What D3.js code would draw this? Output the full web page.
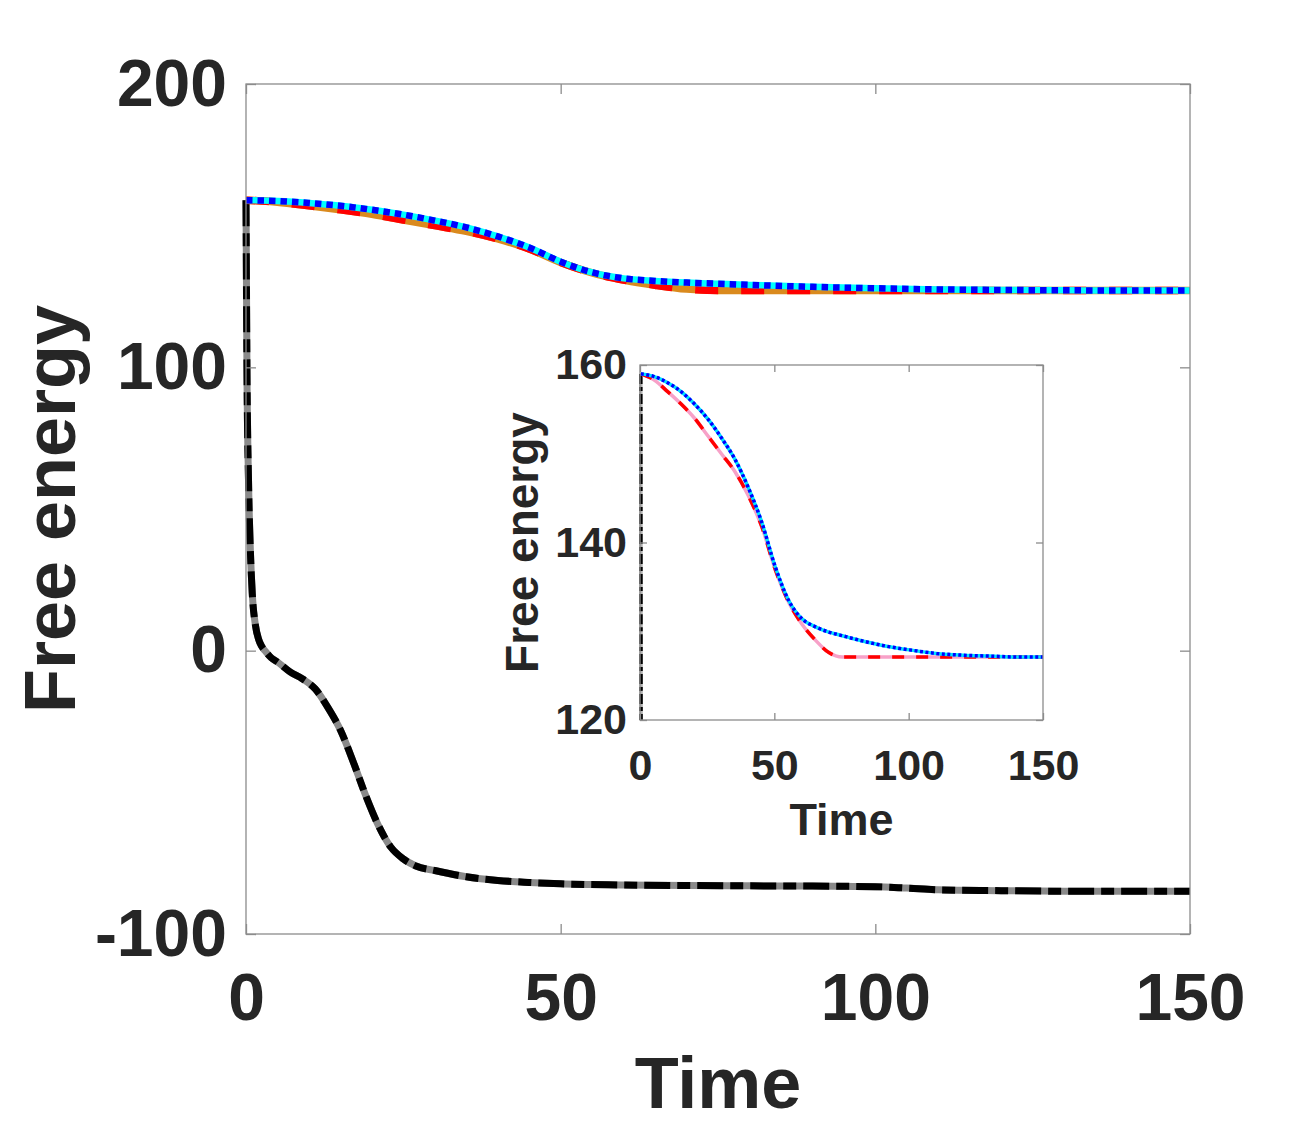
<!DOCTYPE html>
<html><head><meta charset="utf-8">
<script src="https://cdn.jsdelivr.net/npm/d3@7"></script>
<style>body{margin:0;background:#fff}svg{display:block}text{font-family:"Liberation Sans",Arial,sans-serif;font-weight:bold}</style>
</head><body><svg id="c" width="1316" height="1125"></svg>
<script>
// ---- data ----
const timeA = [0,5,10,15,20,25,30,35,40,45,50,55,60,65,70,75,80,90,100,110,120,130,140,150];
const redSeries = [159,158.3,157.0,155.6,154.0,152.0,150.0,148.0,145.3,141.8,137.0,133.3,130.8,129.0,127.6,127.1,127.1,127.1,127.1,127.1,127.1,127.1,127.1,127.1];
const blueSeries = [159,158.7,158.0,157.0,155.6,153.9,151.8,149.4,146.2,142.3,137.3,133.5,131.4,130.5,129.9,129.5,129.1,128.4,127.9,127.5,127.3,127.2,127.1,127.1];
const timeB = [0,0.15,0.4,0.7,1.0,1.5,2,2.5,3,4,5,7,9,11,13,15,17,19,21,23,25,27,30,35,40,45,50,60,70,80,90,100,105,110,120,130,140,150];
const blackSeries = [159,100,60,35,20,9,4,1.5,0,-2.5,-4,-7.5,-10,-13.5,-20,-28,-39,-51,-61.5,-69.3,-73.5,-76,-77.6,-79.8,-81.1,-81.8,-82.3,-82.7,-82.9,-83.0,-83.1,-83.3,-83.8,-84.4,-84.7,-84.9,-84.9,-84.9];
const xTicksMain = [0,50,100,150];
const yTicksMain = [-100,0,100,200];
const xTicksInset = [0,50,100,150];
const yTicksInset = [120,140,160];
const xLabel = "Time", yLabel = "Free energy";

const svg = d3.select("#c");
const txt = "#262626", frameCol = "#8c8c8c";
const fmt = d => String(d);

function panel(o){
  const g = svg.append("g");
  const x = d3.scaleLinear().domain(o.xd).range([o.l,o.r]);
  const y = d3.scaleLinear().domain(o.yd).range([o.b,o.t]);
  g.append("rect").attr("x",o.l).attr("y",o.t).attr("width",o.r-o.l).attr("height",o.b-o.t).attr("fill","#fff");
  const cid = "clip"+o.id;
  svg.append("clipPath").attr("id",cid).append("rect").attr("x",o.l-6).attr("y",o.t).attr("width",o.r-o.l+6).attr("height",o.b-o.t);
  const lg = g.append("g").attr("clip-path","url(#"+cid+")");
  const line = (xs,ys)=> d3.line().curve(d3.curveMonotoneX).x((d,i)=>x(xs[i])+(o.xoff||0)).y(d=>y(d))(ys);
  o.series.forEach(s=>{
    lg.append("path").attr("d",line(s.xs,s.ys)).attr("fill","none").attr("stroke",s.c)
      .attr("stroke-width",s.w).attr("stroke-dasharray",s.dash||null).attr("stroke-linejoin","round");
  });
  g.append("rect").attr("x",o.l).attr("y",o.t).attr("width",o.r-o.l).attr("height",o.b-o.t)
    .attr("fill","none").attr("stroke",frameCol).attr("stroke-width",1.3);
  const ax = g.append("g").attr("transform",`translate(0,${o.b})`).style("color",txt)
    .call(d3.axisBottom(x).tickValues(o.xt).tickSizeInner(-o.tk).tickSizeOuter(0).tickPadding(o.xpad).tickFormat(fmt));
  const ay = g.append("g").attr("transform",`translate(${o.l},0)`).style("color",txt)
    .call(d3.axisLeft(y).tickValues(o.yt).tickSizeInner(-o.tk).tickSizeOuter(0).tickPadding(o.ypad).tickFormat(fmt));
  const axT = g.append("g").attr("transform",`translate(0,${o.t})`)
    .call(d3.axisTop(x).tickValues(o.xt).tickSizeInner(-o.tk).tickSizeOuter(0).tickFormat(""));
  const ayR = g.append("g").attr("transform",`translate(${o.r},0)`)
    .call(d3.axisRight(y).tickValues(o.yt).tickSizeInner(-o.tk).tickSizeOuter(0).tickFormat(""));
  [ax,ay,axT,ayR].forEach(a=>{a.select(".domain").remove(); a.selectAll("line").attr("stroke",frameCol).attr("stroke-width",1.3);});
  [ax,ay].forEach(a=>a.selectAll("text").attr("font-size",o.fs).attr("font-family","Liberation Sans, Arial, sans-serif").attr("font-weight","bold").attr("fill",txt));
  g.append("text").attr("x",(o.l+o.r)/2).attr("y",o.xlY).attr("text-anchor","middle").attr("font-size",o.lfs).attr("fill",txt).text(xLabel);
  g.append("text").attr("transform",`translate(${o.ylX},${(o.t+o.b)/2+o.ylDy}) rotate(-90)`).attr("text-anchor","middle").attr("font-size",o.lfs2||o.lfs).attr("fill",txt).text(yLabel);
}

panel({id:"m", xd:[0,150], yd:[-100,200], l:246, r:1190, t:84, b:934, xt:xTicksMain, yt:yTicksMain,
  tk:10, xpad:39, ypad:19, fs:66, lfs:72, xlY:1108, ylX:75, ylDy:0,
  series:[
    {xs:timeB, ys:blackSeries, c:"#8a8a8a", w:7},
    {xs:timeB, ys:blackSeries, c:"#000", w:7, dash:"26 7 13 7"},
    {xs:timeA, ys:redSeries, c:"#da8a1e", w:7.5},
    {xs:timeA, ys:redSeries, c:"#ff0000", w:7.5, dash:"23 23"},
    {xs:timeA, ys:blueSeries, c:"#00ffff", w:6.5},
    {xs:timeA, ys:blueSeries, c:"#0000ff", w:6.5, dash:"6.5 5"}
  ]});

panel({id:"i", xd:[0,150], yd:[120,160], l:640, r:1043, t:365, b:720, xt:xTicksInset, yt:yTicksInset,
  tk:7, xpad:29, ypad:13, fs:43, lfs:45, lfs2:46, xlY:835, ylX:538, ylDy:0, xoff:0.8,
  series:[
    {xs:timeB, ys:blackSeries, c:"#b0b0b0", w:3.5},
    {xs:timeB, ys:blackSeries, c:"#000", w:3.5, dash:"10 3 4 3"},
    {xs:timeA, ys:redSeries, c:"#f7a1c8", w:3.5},
    {xs:timeA, ys:redSeries, c:"#ff0000", w:3.5, dash:"12 12"},
    {xs:timeA, ys:blueSeries, c:"#00e5ff", w:3.5},
    {xs:timeA, ys:blueSeries, c:"#0000ff", w:3.5, dash:"3 2.5"}
  ]});
</script></body></html>
